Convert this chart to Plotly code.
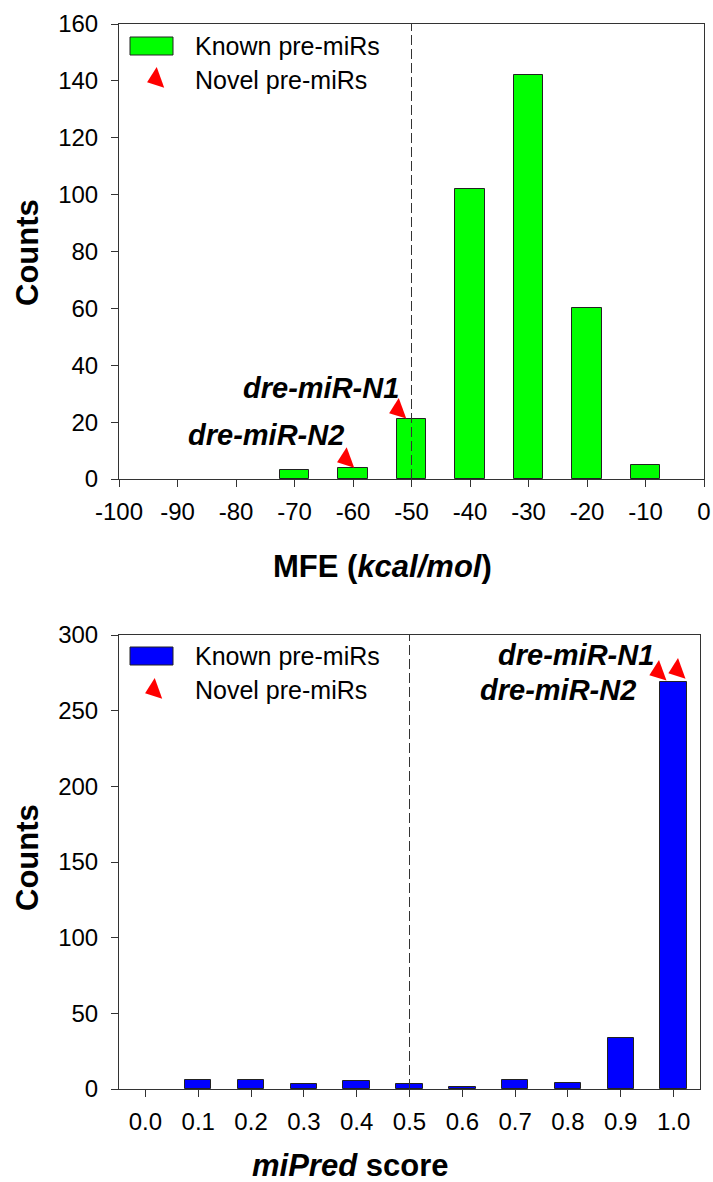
import plotly.graph_objects as go

W, H = 713, 1182
FONT = "Liberation Sans, Arial, sans-serif"

# ---------------- data ----------------
mfe_bins = [-100, -90, -80, -70, -60, -50, -40, -30, -20, -10]
mfe_counts = [0, 0, 0, 3, 4, 21, 102, 142, 60, 5]
mfe_ticks = [-100, -90, -80, -70, -60, -50, -40, -30, -20, -10, 0]
mfe_tick_labels = ["-100", "-90", "-80", "-70", "-60", "-50", "-40", "-30", "-20", "-10", "0"]
count_ticks_top = [0, 20, 40, 60, 80, 100, 120, 140, 160]

novel_names = ["dre-miR-N1", "dre-miR-N2"]
novel_mfe_x = [-52.3, -61.2]
novel_mfe_y = [24.3, 7.0]

mipred_bins = [0.0, 0.1, 0.2, 0.3, 0.4, 0.5, 0.6, 0.7, 0.8, 0.9, 1.0]
mipred_counts = [0, 6, 6, 3, 5, 3, 1, 6, 4, 34, 269]
mipred_ticks = [0.0, 0.1, 0.2, 0.3, 0.4, 0.5, 0.6, 0.7, 0.8, 0.9, 1.0]
count_ticks_bot = [0, 50, 100, 150, 200, 250, 300]

novel_mipred_x = [0.971, 1.007]
novel_mipred_y = [275.6, 276.9]

mfe_cut = -50
mipred_cut = 0.5


def px(x):
    return x / W


def py(y):
    return 1 - y / H


fig = go.Figure()

tri = dict(symbol="triangle-left", angle=-20, size=19, color="#FF0000", line=dict(width=0))

# top histogram
fig.add_trace(go.Bar(x=mfe_bins, y=mfe_counts, width=5,
                     marker=dict(color="#00FF00",
                                 line=dict(color="#222222",
                                           width=[1 if c > 0 else 0 for c in mfe_counts])),
                     xaxis="x", yaxis="y", showlegend=False))
fig.add_trace(go.Scatter(x=novel_mfe_x, y=novel_mfe_y, mode="markers", marker=tri,
                         xaxis="x", yaxis="y", showlegend=False))

# bottom histogram
fig.add_trace(go.Bar(x=mipred_bins, y=mipred_counts, width=0.05,
                     marker=dict(color="#0000FF",
                                 line=dict(color="#222222",
                                           width=[1 if c > 0 else 0 for c in mipred_counts])),
                     xaxis="x2", yaxis="y2", showlegend=False))
fig.add_trace(go.Scatter(x=novel_mipred_x, y=novel_mipred_y, mode="markers", marker=tri,
                         xaxis="x2", yaxis="y2", showlegend=False))

# legend triangles (overlay pixel axis)
fig.add_trace(go.Scatter(x=[156, 154], y=[79, 690], mode="markers", marker=tri,
                         xaxis="x3", yaxis="y3", showlegend=False, hoverinfo="skip"))

axis_common = dict(showline=True, linecolor="#333333", linewidth=1, mirror=True,
                   ticks="outside", ticklen=7, tickcolor="#333333", showgrid=False,
                   zeroline=False, automargin=False,
                   tickfont=dict(family=FONT, size=24, color="black"))

layout = dict(
    width=W, height=H, margin=dict(l=0, r=0, t=0, b=0, autoexpand=False),
    paper_bgcolor="white", plot_bgcolor="rgba(0,0,0,0)",
    font=dict(family=FONT, color="black"),
    bargap=0,
    xaxis=dict(domain=[px(119), px(704)], range=[-100, 0], tickvals=mfe_ticks,
               ticktext=mfe_tick_labels,
               anchor="y", ticklabelstandoff=4, **axis_common),
    yaxis=dict(domain=[py(479), py(24)], range=[0, 160], tickvals=count_ticks_top,
               anchor="x", ticklabelstandoff=8, **axis_common),
    xaxis2=dict(domain=[px(119), px(700)], range=[-0.05, 1.05], tickvals=mipred_ticks,
                tickformat=".1f", anchor="y2", ticklabelstandoff=4, **axis_common),
    yaxis2=dict(domain=[py(1089), py(635)], range=[0, 300], tickvals=count_ticks_bot,
                anchor="x2", ticklabelstandoff=8, **axis_common),
    xaxis3=dict(domain=[0, 1], range=[0, W], visible=False, anchor="y3",
                fixedrange=True, automargin=False),
    yaxis3=dict(domain=[0, 1], range=[H, 0], visible=False, anchor="x3",
                fixedrange=True, automargin=False),
    showlegend=False,
)
fig.update_layout(**layout)

# dashed cut-off lines
fig.add_shape(type="line", xref="x", yref="y", x0=mfe_cut, x1=mfe_cut, y0=0, y1=160,
              line=dict(color="#333333", width=1, dash="10px,4px"))
fig.add_shape(type="line", xref="x2", yref="y2", x0=mipred_cut, x1=mipred_cut, y0=0, y1=300,
              line=dict(color="#333333", width=1, dash="10px,4px"))

# legend swatches
fig.add_shape(type="rect", xref="paper", yref="paper", x0=px(130), x1=px(173), y0=py(55), y1=py(37),
              fillcolor="#00FF00", line=dict(color="#222222", width=1))
fig.add_shape(type="rect", xref="paper", yref="paper", x0=px(130), x1=px(173), y0=py(665), y1=py(647),
              fillcolor="#0000FF", line=dict(color="#222222", width=1))

ann = []
leg_font = dict(family=FONT, size=25, color="black")
for y in (46, 656):
    ann.append(dict(xref="paper", yref="paper", x=px(193), y=py(y), text="Known pre-miRs",
                    showarrow=False, xanchor="left", yanchor="middle", font=leg_font))
for y in (80, 690):
    ann.append(dict(xref="paper", yref="paper", x=px(193), y=py(y), text="Novel pre-miRs",
                    showarrow=False, xanchor="left", yanchor="middle", font=leg_font))

lab_font = dict(family=FONT, size=29, color="black")
# top labels
ann.append(dict(xref="x", yref="y", x=novel_mfe_x[0], y=novel_mfe_y[0],
                text="<b><i>" + novel_names[0] + "</i></b>", showarrow=False,
                xanchor="right", yanchor="middle", xshift=3, yshift=22, font=lab_font))
ann.append(dict(xref="x", yref="y", x=novel_mfe_x[1], y=novel_mfe_y[1],
                text="<b><i>" + novel_names[1] + "</i></b>", showarrow=False,
                xanchor="right", yanchor="middle", xshift=0, yshift=24, font=lab_font))
# bottom labels
ann.append(dict(xref="x2", yref="y2", x=novel_mipred_x[0], y=novel_mipred_y[0],
                text="<b><i>" + novel_names[0] + "</i></b>", showarrow=False,
                xanchor="right", yanchor="middle", xshift=-2, yshift=17, font=lab_font))
ann.append(dict(xref="x2", yref="y2", x=novel_mipred_x[0], y=novel_mipred_y[0],
                text="<b><i>" + novel_names[1] + "</i></b>", showarrow=False,
                xanchor="right", yanchor="middle", xshift=-20, yshift=-18, font=lab_font))

title_font = dict(family=FONT, size=31, color="black")
ann.append(dict(xref="paper", yref="paper", x=px(382), y=py(567),
                text="<b>MFE (<i>kcal/mol</i>)</b>", showarrow=False,
                xanchor="center", yanchor="middle", font=title_font))
ann.append(dict(xref="paper", yref="paper", x=px(350), y=py(1165),
                text="<b><i>miPred</i> score</b>", showarrow=False,
                xanchor="center", yanchor="middle", font=title_font))
for yc in (253, 858):
    ann.append(dict(xref="paper", yref="paper", x=px(27), y=py(yc),
                    text="<b>Counts</b>", showarrow=False, textangle=-90,
                    xanchor="center", yanchor="middle", font=title_font))

fig.update_layout(annotations=ann)
fig.write_html("out.html")
